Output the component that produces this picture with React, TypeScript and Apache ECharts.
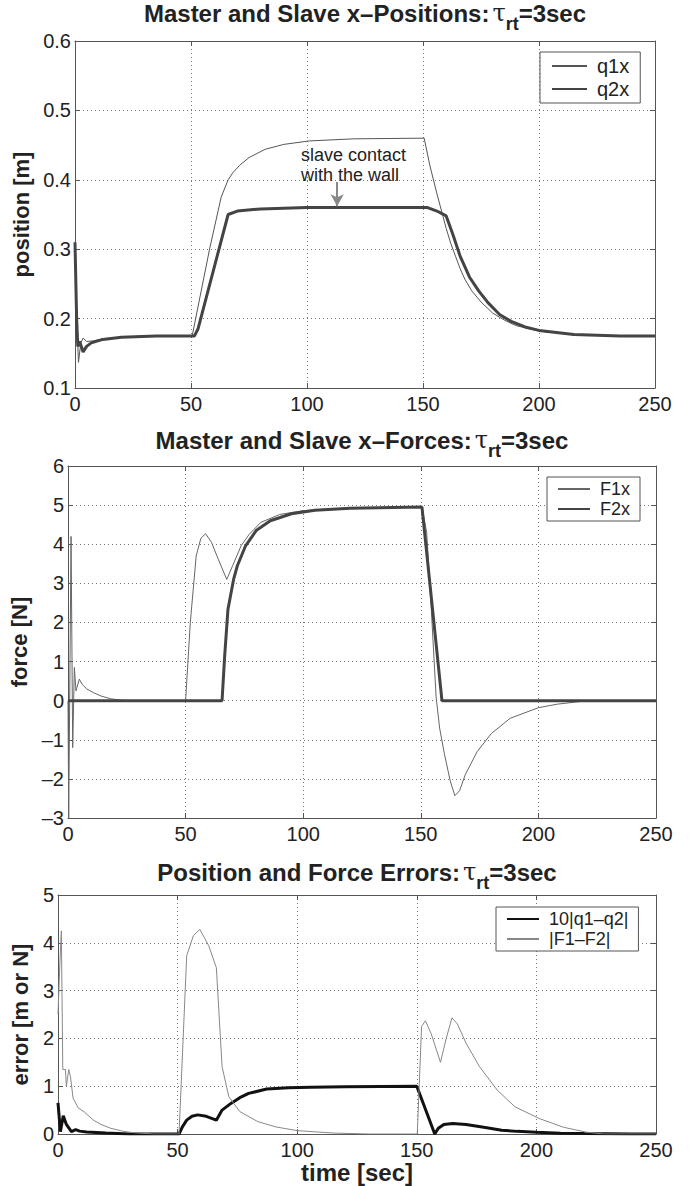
import React, { useEffect, useRef } from "react";
import * as echarts from "echarts";

const FONT = "Liberation Sans";
const xTicks = [0, 50, 100, 150, 200, 250];

// Plot 1: positions [t, m]
const q1x: [number, number][] = [
  [0, 0.31], [0.5, 0.22], [1.5, 0.137], [2.5, 0.165], [3.5, 0.172], [5, 0.167], [8, 0.168], [12, 0.171],
  [20, 0.173], [30, 0.175], [50.5, 0.175], [58, 0.3], [63, 0.375], [66, 0.4], [68, 0.41], [71, 0.421], [75, 0.432],
  [82, 0.444], [90, 0.451], [101, 0.456], [120, 0.459], [150.5, 0.46], [153, 0.42], [156, 0.38], [158, 0.355],
  [160, 0.33], [162, 0.308], [164, 0.29], [166, 0.272], [168, 0.257], [171, 0.24], [175, 0.224], [180, 0.208],
  [185, 0.198], [190, 0.19], [200, 0.182], [215, 0.177], [235, 0.175], [250, 0.175],
];
const q2x: [number, number][] = [
  [0, 0.31], [0.7, 0.2], [1.2, 0.16], [2, 0.167], [3.5, 0.152], [5, 0.16], [7, 0.165], [12, 0.17],
  [20, 0.173], [35, 0.175], [51.5, 0.175], [53, 0.185], [66, 0.35], [70, 0.355], [80, 0.358], [100, 0.36],
  [152, 0.36], [156, 0.355], [160, 0.348], [163, 0.32], [166, 0.29], [170, 0.26], [174, 0.24], [178, 0.223],
  [183, 0.206], [188, 0.196], [194, 0.188], [200, 0.183], [215, 0.177], [235, 0.175], [250, 0.175],
];

// Plot 2: forces [t, N]
const F1x: [number, number][] = [
  [0, 0], [0.3, -3], [1.3, 4.2], [2.0, -1.2], [2.7, 0.85], [3.4, 0.25], [4.8, 0.55], [6, 0.42], [8, 0.3],
  [11, 0.2], [14, 0.12], [18, 0.05], [22, 0.015], [27, 0], [50, 0], [52, 2.0], [54.5, 3.7], [56.5, 4.15],
  [58.5, 4.27], [61, 4.05], [64, 3.6], [67.5, 3.1], [70, 3.45], [73.6, 3.96], [77, 4.25], [82, 4.56],
  [90, 4.76], [100, 4.86], [120, 4.93], [150.5, 4.95], [152.5, 4.3], [154.5, 2.3], [156.5, 0.1], [158, -0.7],
  [160, -1.35], [162.5, -2.05], [164.5, -2.43], [166.5, -2.3], [169, -1.88], [174, -1.3], [180, -0.84],
  [188, -0.45], [200, -0.18], [208, -0.09], [218, -0.02], [225, 0], [250, 0],
];
const F2x: [number, number][] = [
  [0, 0], [65.5, 0], [66.6, 1.13], [68, 2.33], [70.4, 3.1], [72, 3.45], [75.5, 3.96], [80, 4.35],
  [86, 4.6], [95, 4.78], [105, 4.87], [120, 4.92], [150.5, 4.95], [159, 0], [250, 0],
];

// Plot 3: errors
const errQ: [number, number][] = [
  [0, 0.65], [1, 0.05], [2.2, 0.38], [3.5, 0.2], [5.6, 0.05], [7.4, 0.09], [9, 0.06], [12, 0.04], [20, 0.02],
  [30, 0], [50.6, 0], [52, 0.15], [53.8, 0.29], [56, 0.37], [58.4, 0.4], [62, 0.37], [66.2, 0.29], [68.6, 0.5],
  [72.3, 0.64], [76, 0.76], [79.7, 0.85], [87.2, 0.94], [96.4, 0.97], [105.7, 0.98], [120, 0.99], [150, 1.0],
  [157.5, 0], [159, 0.12], [161.3, 0.2], [165, 0.22], [170.6, 0.2], [178, 0.14], [185.5, 0.08], [192, 0.055],
  [200, 0.035], [210, 0.018], [220, 0.008], [240, 0], [250, 0],
];
const errF: [number, number][] = [
  [0, 2.5], [0.8, 3.6], [1.4, 4.25], [2.0, 1.35], [3.1, 1.35], [3.5, 1.0], [4.5, 1.35], [5.2, 1.2], [6.3, 0.75],
  [8.4, 0.55], [11, 0.46], [14.8, 0.29], [18, 0.2], [22, 0.12], [27, 0.06], [31, 0.03], [40, 0], [50.6, 0],
  [53.8, 3.73], [56.6, 4.15], [59.3, 4.28], [63, 3.94], [66.2, 3.48], [68.6, 1.41], [71.4, 0.78], [76, 0.47],
  [83.5, 0.26], [90.9, 0.15], [100, 0.07], [115, 0.02], [130, 0], [150.2, 0], [152, 2.25], [153.6, 2.37],
  [156, 2.1], [159.9, 1.5], [162.3, 2.0], [164.7, 2.43], [167, 2.3], [170.6, 1.9], [176.2, 1.41], [183.6, 0.92],
  [191, 0.57], [201.4, 0.32], [211.4, 0.14], [220.7, 0.04], [228, 0], [250, 0],
];

const titles = [
  "Master and Slave x–Positions:",
  "Master and Slave x–Forces:",
  "Position and Force Errors:",
];
const yNames = ["position [m]", "force [N]", "error [m or N]"];
const xName = "time [sec]";
const annotation = "slave contact\nwith the wall";

const grids = [
  { left: 75, top: 41, width: 580, height: 347 },
  { left: 68, top: 466, width: 588, height: 352 },
  { left: 58, top: 895, width: 598, height: 239 },
];
const yRanges = [
  { min: 0.1, max: 0.6, interval: 0.1 },
  { min: -3, max: 6, interval: 1 },
  { min: 0, max: 5, interval: 1 },
];

const AX = "#555";
const TXT = "#222";

export default function App() {
  const ref = useRef<HTMLDivElement>(null);
  useEffect(() => {
    if (!ref.current) return;
    const chart = echarts.init(ref.current, undefined, { renderer: "svg" });
    const gridLine = { show: true, lineStyle: { color: "#777", type: [1, 3] as any, width: 1 } };
    const xAxes: any[] = [];
    const yAxes: any[] = [];
    grids.forEach((g, i) => {
      xAxes.push({
        type: "value", gridIndex: i, min: 0, max: 250, interval: 50, position: "bottom",
        axisLine: { show: true, onZero: false, lineStyle: { color: AX } },
        axisTick: { show: true, inside: true, length: 5, lineStyle: { color: AX } },
        axisLabel: { fontSize: 20, color: TXT, fontFamily: FONT, margin: 6 },
        splitLine: gridLine,
        name: i === 2 ? xName : "", nameLocation: "middle", nameGap: 26,
        nameTextStyle: { fontSize: 24, fontWeight: "bold", color: TXT, fontFamily: FONT },
      });
      xAxes.push({
        type: "value", gridIndex: i, min: 0, max: 250, interval: 50, position: "top",
        axisLine: { show: true, onZero: false, lineStyle: { color: AX } },
        axisTick: { show: true, inside: true, length: 5, lineStyle: { color: AX } },
        axisLabel: { show: false }, splitLine: { show: false },
      });
      const yr = yRanges[i];
      yAxes.push({
        type: "value", gridIndex: i, min: yr.min, max: yr.max, interval: yr.interval, position: "left",
        axisLine: { show: true, onZero: false, lineStyle: { color: AX } },
        axisTick: { show: true, inside: true, length: 5, lineStyle: { color: AX } },
        axisLabel: {
          fontSize: 20, color: TXT, fontFamily: FONT, margin: 4,
          formatter: (v: number) => i === 0 ? v.toFixed(1) : (v < 0 ? "–" + Math.abs(v) : String(v)),
        },
        splitLine: gridLine,
        name: yNames[i], nameLocation: "middle", nameGap: [38, 31, 20][i],
        nameTextStyle: { fontSize: 22, fontWeight: "bold", color: TXT, fontFamily: FONT },
      });
      yAxes.push({
        type: "value", gridIndex: i, min: yr.min, max: yr.max, interval: yr.interval, position: "right",
        axisLine: { show: true, onZero: false, lineStyle: { color: AX } },
        axisTick: { show: true, inside: true, length: 5, lineStyle: { color: AX } },
        axisLabel: { show: false }, splitLine: { show: false },
      });
    });

    const line = (name: string, data: any, gi: number, color: string, width: number, extra: any = {}) => ({
      type: "line", name, data, xAxisIndex: gi * 2, yAxisIndex: gi * 2, showSymbol: false, symbol: "none",
      lineStyle: { color, width }, itemStyle: { color }, ...extra,
    });

    const series: any[] = [
      line("q1x", q1x, 0, "#555", 1, {
        markLine: {
          silent: true, symbol: ["none", "arrow"], symbolSize: [10, 12],
          lineStyle: { color: "#888", width: 2, type: "solid" }, label: { show: false },
          data: [[{ coord: [113, 0.397] }, { coord: [113, 0.362] }]],
        },
        markPoint: {
          silent: true, symbol: "circle", symbolSize: 0,
          itemStyle: { color: "transparent" },
          label: {
            show: true, position: "right", distance: 0, formatter: annotation,
            fontSize: 18, lineHeight: 20, color: TXT, fontFamily: FONT, align: "left",
          },
          data: [{ coord: [97.4, 0.421] }],
        },
      }),
      line("q2x", q2x, 0, "#444", 3),
      line("F1x", F1x, 1, "#666", 1),
      line("F2x", F2x, 1, "#444", 3),
      line("10|q1–q2|", errQ, 2, "#111", 3),
      line("|F1–F2|", errF, 2, "#888", 1),
    ];

    const legendBase = {
      orient: "vertical", backgroundColor: "#fff", borderColor: AX, borderWidth: 1,
      itemWidth: 35, itemHeight: 14, itemGap: 3, selectedMode: false,
      itemStyle: { opacity: 0, color: "transparent", borderWidth: 0 },
    };
    const legends = [
      { ...legendBase, left: 540, top: 52, padding: [4, 11, 4, 11], data: ["q1x", "q2x"],
        textStyle: { fontSize: 20, color: TXT, fontFamily: FONT, padding: [0, 0, 0, 5] } },
      { ...legendBase, left: 547, top: 477, padding: [3, 10, 3, 10], itemWidth: 32, itemGap: 2, data: ["F1x", "F2x"],
        textStyle: { fontSize: 18, color: TXT, fontFamily: FONT, padding: [0, 0, 0, 5] } },
      { ...legendBase, left: 496, top: 907, padding: [3, 10, 3, 10], itemWidth: 32, itemGap: 2, data: ["10|q1–q2|", "|F1–F2|"],
        textStyle: { fontSize: 18, color: TXT, fontFamily: FONT, padding: [0, 0, 0, 5] } },
    ];

    const titleGraphics = grids.map((g, i) => ({
      type: "text",
      x: g.left + g.width / 2,
      y: [1, 428, 860][i],
      style: {
        text: `{b|${titles[i]}}{tau|τ}{sub|rt}{b|=3sec}`,
        align: "center",
        verticalAlign: "top",
        rich: {
          b: { fontSize: 24, fontWeight: "bold", fontFamily: FONT, fill: TXT, verticalAlign: "top" },
          tau: { fontSize: 24, fontFamily: "DejaVu Serif", fill: TXT, verticalAlign: "top", padding: [0, 0, 0, 3] },
          sub: { fontSize: 18, fontWeight: "bold", fontFamily: FONT, fill: TXT, verticalAlign: "top", padding: [14, 0, 0, 0] },
        },
      },
    }));

    chart.setOption({
      animation: false,
      backgroundColor: "#fff",
      textStyle: { fontFamily: FONT },
      grid: grids.map((g) => ({ ...g, containLabel: false })),
      xAxis: xAxes,
      yAxis: yAxes,
      legend: legends,
      series,
      graphic: titleGraphics,
    });
    return () => chart.dispose();
  }, []);
  return <div ref={ref} style={{ position: "absolute", left: 0, top: 0, width: 694, height: 1186 }} />;
}
